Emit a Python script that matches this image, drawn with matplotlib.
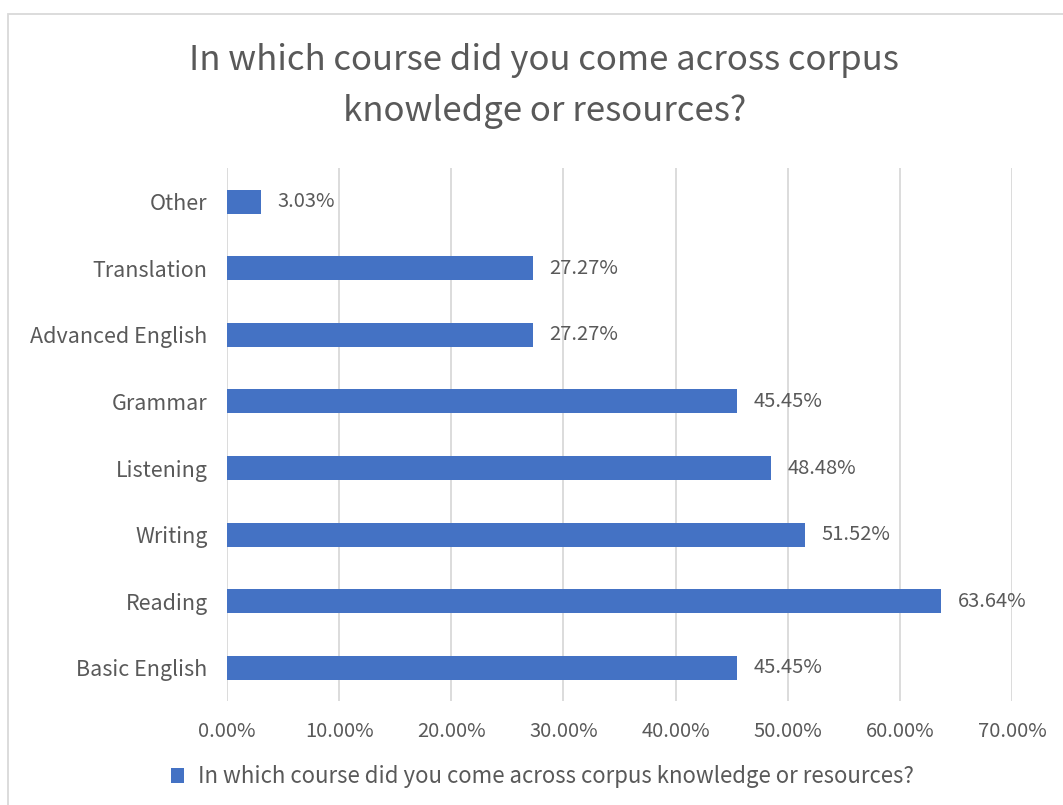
import matplotlib.pyplot as plt
from matplotlib.patches import Rectangle

courses = ["Basic English", "Reading", "Writing", "Listening",
           "Grammar", "Advanced English", "Translation", "Other"]
shares = [45.45, 63.64, 51.52, 48.48, 45.45, 27.27, 27.27, 3.03]
x_ticks = [0, 10, 20, 30, 40, 50, 60, 70]
title = "In which course did you come across corpus\nknowledge or resources?"
series_name = "In which course did you come across corpus knowledge or resources?"

BLUE = "#4472C4"
TEXT = "#595959"
GRID = "#D9D9D9"

plt.rcParams["font.family"] = ["Noto Sans CJK SC", "DejaVu Sans"]

fig = plt.figure(figsize=(10.63, 8.05), dpi=100)
ax = fig.add_axes([0.2135, 0.129, 0.7385, 0.662])

ax.barh(range(len(courses)), shares, height=0.36, color=BLUE, zorder=3,
        label=series_name)
for i, v in enumerate(shares):
    ax.text(v + 1.5, i, f"{v:.2f}%", va="center", ha="left",
            fontsize=14.5, color=TEXT)

ax.set_xlim(0, 70)
ax.set_ylim(-0.5, len(courses) - 0.5)
ax.set_xticks(x_ticks)
ax.set_xticklabels([f"{t:.2f}%" for t in x_ticks])
ax.set_yticks(range(len(courses)))
ax.set_yticklabels(courses)
ax.tick_params(axis="both", length=0, labelcolor=TEXT)
ax.tick_params(axis="x", pad=14, labelsize=14.5)
ax.tick_params(axis="y", pad=14, labelsize=15.5)
ax.grid(axis="x", color=GRID, linewidth=1.3, zorder=0)
for s in ax.spines.values():
    s.set_visible(False)

fig.text(0.512, 0.893, title, ha="center", va="center", fontsize=25,
         color=TEXT, linespacing=1.6)

fig.legend(loc="center", bbox_to_anchor=(0.51, 0.035), frameon=False,
           fontsize=16, labelcolor=TEXT, handlelength=0.6,
           handleheight=0.6, handletextpad=0.6)

fig.patches.append(Rectangle((8 / 1063, -0.1), 1.2, 1 - 14 / 805 + 0.1,
                             transform=fig.transFigure, fill=False,
                             edgecolor=GRID, linewidth=1.3))

fig.savefig("out.png", dpi=100)
